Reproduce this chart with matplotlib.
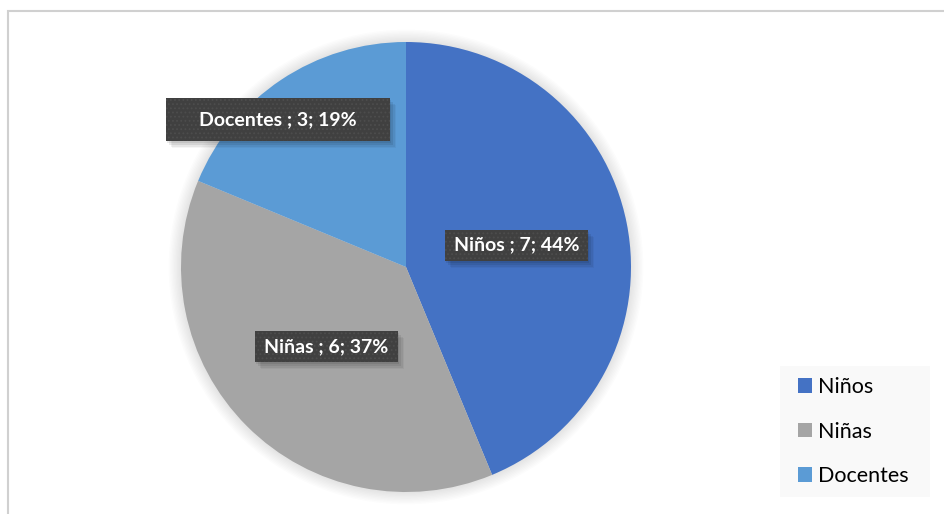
import numpy as np
import matplotlib
matplotlib.use('Agg')
import matplotlib.pyplot as plt
from matplotlib.patches import Rectangle, Circle
from matplotlib.transforms import IdentityTransform

categories = ['Niños', 'Niñas', 'Docentes']
values = [7, 6, 3]
percents = [44, 37, 19]
colors = ['#4472C4', '#A5A5A5', '#5B9BD5']

# label placement: distance from center (fraction of radius), angle nudge (deg)
label_dist = [0.50, 0.50, 0.868]
label_nudge = [0, 0, 7.2]
# box padding in pixels (x, y)
label_pad = [(9, 7), (9, 7), (33, 13)]

plt.rcParams['font.family'] = ['Lato', 'DejaVu Sans']
plt.rcParams['hatch.linewidth'] = 0.8

W, H = 945, 514
fig = plt.figure(figsize=(W / 100, H / 100), dpi=100)
fig.patch.set_facecolor('white')

# chart area border (runs off the right/bottom edge)
fig.patches.append(Rectangle((8 / W, -0.1), 1.2, 1 - 11 / H + 0.1, transform=fig.transFigure,
                             fill=False, edgecolor='#d0d0d0', lw=1.5))

cx, cy, r = 406, 267, 225
ax = fig.add_axes([(cx - r) / W, (H - cy - r) / H, 2 * r / W, 2 * r / H])
ax.set_xlim(-1, 1)
ax.set_ylim(-1, 1)
ax.set_aspect('equal')
ax.axis('off')

# soft shadow around the pie
for rr in np.linspace(1.0, 1.055, 10):
    ax.add_patch(Circle((0, 0), rr, facecolor='black', edgecolor='none', alpha=0.012,
                        zorder=0, clip_on=False))

wedges, _ = ax.pie(values, colors=colors, startangle=90, counterclock=False,
                   radius=1, wedgeprops=dict(linewidth=0, zorder=1))
ax.set_xlim(-1, 1)
ax.set_ylim(-1, 1)

texts = []
for w, cat, v, pct, d, nudge in zip(wedges, categories, values, percents, label_dist, label_nudge):
    ang = np.deg2rad((w.theta1 + w.theta2) / 2 + nudge)
    t = ax.text(d * np.cos(ang), d * np.sin(ang), f'{cat} ; {v}; {pct}%',
                ha='center', va='center', color='white', fontsize=14, fontweight='bold',
                zorder=5)
    texts.append(t)

fig.canvas.draw()
renderer = fig.canvas.get_renderer()
for t, (px, py) in zip(texts, label_pad):
    bb = t.get_window_extent(renderer)
    x0, y0 = bb.x0 - px, bb.y0 - py
    bw, bh = bb.width + 2 * px, bb.height + 2 * py
    # blurry drop shadow, stacked translucent boxes
    for k, (dx, dy, a) in enumerate([(1, -2, 0.08), (3, -4, 0.08), (5, -6, 0.06), (6, -7, 0.04)]):
        ax.add_patch(Rectangle((x0 + dx, y0 + dy), bw, bh, transform=IdentityTransform(),
                               facecolor='black', edgecolor='none', alpha=a, zorder=3,
                               clip_on=False))
    ax.add_patch(Rectangle((x0, y0), bw, bh, transform=IdentityTransform(),
                           facecolor='#404040', edgecolor='#4d4d4d', lw=0, hatch='....',
                           zorder=4, clip_on=False))

# legend background
fig.patches.append(Rectangle((780 / W, (H - 497) / H), 150 / W, 131 / H, transform=fig.transFigure,
                             facecolor='#f9f9f9', edgecolor='none'))
leg = fig.legend(wedges, categories, loc='center left', bbox_to_anchor=(798 / W, (H - 431.5) / H),
                 frameon=False, fontsize=15.5, handlelength=0.65, handleheight=0.65,
                 handletextpad=0.3, labelspacing=1.14, borderpad=0, borderaxespad=0)

fig.savefig('out.png', dpi=100)
